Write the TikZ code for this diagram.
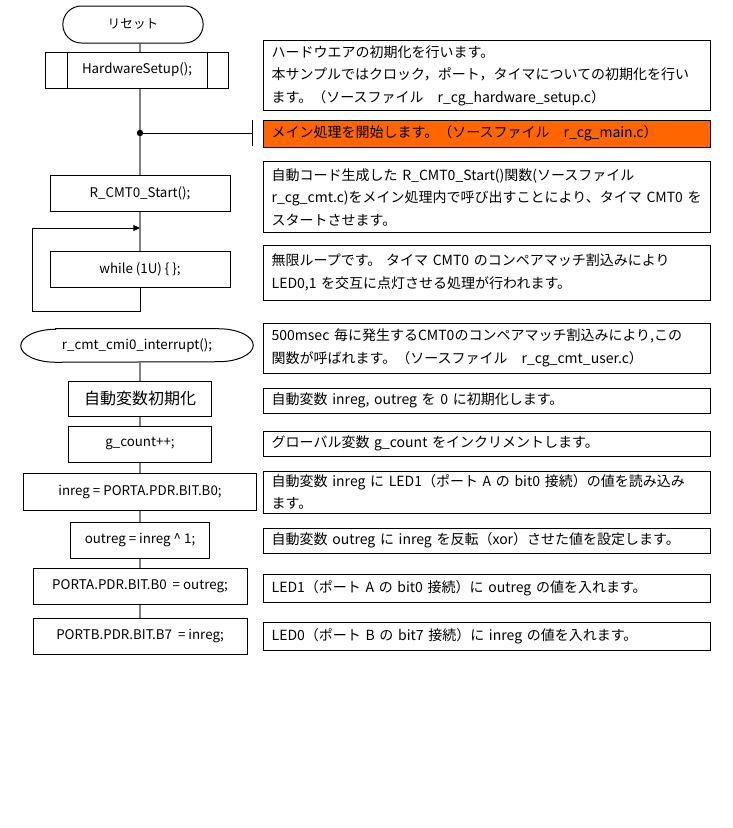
\documentclass[tikz,border=0pt]{standalone}
\usepackage{fontspec}
\setmainfont{Noto Sans CJK JP}
\usepackage{tikz}
\usetikzlibrary{arrows.meta, positioning, shapes.misc}
\usepackage{xcolor}
\definecolor{noteorange}{RGB}{255,102,0}
\definecolor{flowgray}{RGB}{128,128,128}

\tikzset{
  box/.style={draw, line width=0.75pt, inner sep=1pt,
    font=\fontsize{10}{12}\selectfont},
  note/.style={draw, line width=0.75pt, minimum width=335.25pt,
    text width=322.25pt, align=left, inner xsep=6.5pt, inner ysep=1pt,
    font=\fontsize{10.5}{17}\selectfont},
  flow/.style={flowgray, line width=1.5pt},
}

\begin{document}
\begin{tikzpicture}[x=0.75pt, y=-0.75pt]
  \useasboundingbox (0,0) rectangle (732,828);
  % main routine
  \node[box, rounded rectangle, minimum width=107.25pt, minimum height=27.75pt,
    font=\fontsize{9.5}{11}\selectfont] (reset) at (133,24.5) {リセット};
  \node[box, minimum width=137.25pt, minimum height=27pt] (hwsetup) at (137,70)
    {HardwareSetup();};
  \draw[line width=0.75pt] ([xshift=16.5pt]hwsetup.north west) -- ([xshift=16.5pt]hwsetup.south west);
  \draw[line width=0.75pt] ([xshift=-16.5pt]hwsetup.north east) -- ([xshift=-16.5pt]hwsetup.south east);
  \node[box, minimum width=135pt, minimum height=27pt] (cmtstart) at (140,193)
    {R\_CMT0\_Start();};
  \node[box, minimum width=135pt, minimum height=27pt] (loop) at (140,269)
    {while (1U) \{ \};};
  \coordinate (branch) at (140,133);
  \coordinate (tick) at (252.7,133);
  \coordinate (join) at (140,228);
  \coordinate (back) at (32,311);
  % spine
  \draw[flow] (reset.south -| cmtstart) -- (hwsetup.north -| cmtstart);
  \draw[flow] (hwsetup.south -| cmtstart) -- (cmtstart);
  \draw[flow] (cmtstart) -- (loop);
  % endless loop
  \draw[line width=0.75pt, -{Triangle[length=5pt, width=4.5pt]}]
    (loop.south) |- (back) |- (join);
  % comment mark
  \draw[line width=0.75pt] (branch) -- (tick);
  \draw[line width=0.75pt] ([yshift=9.4pt]tick) -- ([yshift=-9.4pt]tick);
  \fill (branch) circle[radius=2.4pt];

  % interrupt routine
  \node[minimum width=174pt, minimum height=24.75pt, inner sep=1pt,
    font=\fontsize{10}{12}\selectfont] (irq) at (137,345.5)
    {r\_cmt\_cmi0\_interrupt();};
  \draw[line width=0.75pt] ([xshift=26.25pt]irq.north west) -- ([xshift=-26.25pt]irq.north east)
    arc[start angle=90, end angle=-90, x radius=26.25pt, y radius=12.375pt]
    -- ([xshift=26.25pt]irq.south west)
    arc[start angle=270, end angle=90, x radius=26.25pt, y radius=12.375pt] -- cycle;
  \node[box, minimum width=107.25pt, minimum height=26.25pt,
    font=\fontsize{12}{14}\selectfont] (initvar) at (140,398.5) {自動変数初期化};
  \node[box, minimum width=107.25pt, minimum height=27pt] (gcount) at (140,444)
    {g\_count++;};
  \node[box, minimum width=174.75pt, minimum height=27.75pt] (readin) at (140,491.5)
    {inreg = PORTA.PDR.BIT.B0;};
  \node[box, minimum width=104.25pt, minimum height=27pt] (xorout) at (140,540)
    {outreg = inreg \textasciicircum\ 1;};
  \node[box, minimum width=160.5pt, minimum height=27pt] (setporta) at (140,586.5)
    {PORTA.PDR.BIT.B0 \ = outreg;};
  \node[box, minimum width=160.5pt, minimum height=27pt] (setportb) at (140,636)
    {PORTB.PDR.BIT.B7 \ = inreg;};
  \draw[flow] (irq.south -| initvar) -- (initvar);
  \draw[flow] (initvar) -- (gcount);
  \draw[flow] (gcount) -- (readin);
  \draw[flow] (readin) -- (xorout);
  \draw[flow] (xorout) -- (setporta);
  \draw[flow] (setporta) -- (setportb);

  % notes
  \node[note, minimum height=52.5pt] (hwnote) at (486.5,75.7)
    {ハードウエアの初期化を行います。\\
     本サンプルではクロック，ポート，タイマについての初期化を行い\\
     ます。（ソースファイル　r\_cg\_hardware\_setup.c）};
  \node[note, fill=noteorange, minimum height=20.25pt] (mainnote) at (486.5,133.7)
    {メイン処理を開始します。（ソースファイル　r\_cg\_main.c）};
  \node[note, minimum height=53.25pt] (startnote) at (486.5,197.2)
    {自動コード生成した R\_CMT0\_Start()関数(ソースファイル\\
     r\_cg\_cmt.c)をメイン処理内で呼び出すことにより、タイマ~CMT0~を\\
     スタートさせます。};
  \node[note, minimum height=41.25pt] (loopnote) at (486.5,272.5)
    {無限ループです。 タイマ CMT0 のコンペアマッチ割込みにより\\
     LED0,1 を交互に点灯させる処理が行われます。};
  \node[note, minimum height=37.5pt] (irqnote) at (486.5,348)
    {500msec 毎に発生するCMT0のコンペアマッチ割込みにより,この\\
     関数が呼ばれます。（ソースファイル　r\_cg\_cmt\_user.c）};
  \node[note, minimum height=18.75pt] (initnote) at (486.5,400.5)
    {自動変数 inreg, outreg を 0 に初期化します。};
  \node[note, minimum height=18.75pt] (countnote) at (486.5,443.5)
    {グローバル変数 g\_count をインクリメントします。};
  \node[note, minimum height=31.5pt] (readnote) at (486.5,492)
    {自動変数 inreg に LED1（ポート A の bit0 接続）の値を読み込み\\
     ます。};
  \node[note, minimum height=18.75pt] (xornote) at (486.5,540.5)
    {自動変数 outreg に inreg を反転（xor）させた値を設定します。};
  \node[note, minimum height=20.6pt] (portanote) at (486.5,588.5)
    {LED1（ポート A の bit0 接続）に outreg の値を入れます。};
  \node[note, minimum height=21pt] (portbnote) at (486.5,636)
    {LED0（ポート B の bit7 接続）に inreg の値を入れます。};
\end{tikzpicture}
\end{document}
